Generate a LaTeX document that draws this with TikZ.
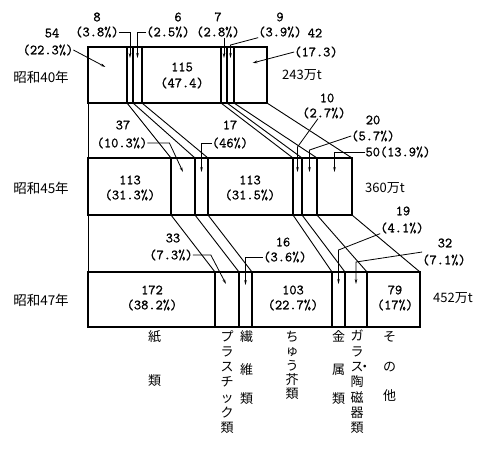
\documentclass[tikz,border=0pt]{standalone}
\usepackage{fontspec}
\setmainfont{Noto Sans CJK JP}
\newfontfamily\numfont[FakeBold=1.2]{Latin Modern Mono}
\usetikzlibrary{arrows.meta, positioning, calc}

\begin{document}
\begin{tikzpicture}[
    x = 1pt, y = -1pt,
    bar/.style = {line width=1.2pt},
    link/.style = {line width=0.9pt},
    arr/.style = {line width=0.8pt, -{Stealth[length=5pt,width=2.6pt]}},
    num/.style = {inner sep=0pt, font=\fontsize{14}{16}\selectfont\numfont},
    unit/.style = {inner sep=0pt, font=\fontsize{13}{15}\selectfont},
    yr/.style = {inner sep=0pt, font=\fontsize{13.5}{15}\selectfont},
    col/.style = {inner sep=0pt, anchor=north, align=center,
        font=\fontsize{13}{15.3}\selectfont}
    ]
    \useasboundingbox (0,0) rectangle (486,448);
    %
    % boundaries of the three bars
    \foreach \x [count=\i from 0] in {88,127,133,142,221,227,234,267} {
        \coordinate (tA\i) at (\x,47);
        \coordinate (bA\i) at (\x,103);
    }
    \foreach \x [count=\i from 0] in {88,171,195,208,293,302,317,352} {
        \coordinate (tB\i) at (\x,158);
        \coordinate (bB\i) at (\x,215);
    }
    \foreach \x [count=\i from 0] in {88,215,239,252,332,345,367,420} {
        \coordinate (tC\i) at (\x,272);
        \coordinate (bC\i) at (\x,327);
    }
    \foreach \r in {A,B,C} {
        \draw[bar] (t\r0) rectangle (b\r7);
        \foreach \i in {1,...,6}
            \draw[bar] (t\r\i) -- (b\r\i);
        \foreach \i [evaluate=\i as \j using int(\i+1)] in {0,...,6}
            \coordinate (m\r\i) at ($(t\r\i)!.5!(t\r\j)$);
    }
    % flows between the bars
    \foreach \i in {0,...,7} {
        \draw[link] (bA\i) -- (tB\i);
        \draw[link] (bB\i) -- (tC\i);
    }
    %
    % 昭和40年
    \node[yr] (y40) at (41,77) {昭和40年};
    \node[num] (p54) at (48,50) {(22.3\%)};
    \node[num] (n54) at (52,33) {54};
    \draw[arr] (p54.east) -- ($(mA0)+(-2,20)$);
    \node[num] (p8) at (97,32) {(3.8\%)};
    \node[num] (n8) at (97,17) {8};
    \draw[arr] (p8.east) -| ($(mA1)+(0,11)$);
    \node[num] (p6) at (168,32) {(2.5\%)};
    \node[num] (n6) at (178,17) {6};
    \draw[arr] (p6.west) -| ($(mA2)+(0,11)$);
    \node[num] (n115) at (182,67) {115};
    \node[num] (p115) at (182,83) {(47.4)};
    \node[num] (p7) at (218,32) {(2.8\%)};
    \node[num] (n7) at (218,17) {7};
    \draw[arr] (p7.south -| mA4) -- ($(mA4)+(0,11)$);
    \node[num] (p9) at (280,32) {(3.9\%)};
    \node[num] (n9) at (280,17) {9};
    \draw[arr] (p9.south west) -- ($(mA5)+(0,-2)$) -- ($(mA5)+(0,11)$);
    \node[num] (p42) at (316,52) {(17.3)};
    \node[num] (n42) at (315,33) {42};
    \draw[arr] (p42.west) -- ($(mA6)+(2,16)$);
    \node[unit] (w40) at (302,75) {243万t};
    %
    % 昭和45年
    \node[yr] (y45) at (41,188) {昭和45年};
    \node[num] (n113a) at (130,180) {113};
    \node[num] (p113a) at (130,195) {(31.3\%)};
    \node[num] (p37) at (122,143) {(10.3\%)};
    \node[num] (n37) at (123,125) {37};
    \draw[arr] (p37.east) -- ++(22,0) -- ($(mB1)+(0,14)$);
    \node[num] (p17) at (230,143) {(46\%)};
    \node[num] (n17) at (230,125) {17};
    \draw[arr] (p17.west) -| ($(mB2)+(0,14)$);
    \node[num] (n113b) at (250,180) {113};
    \node[num] (p113b) at (250,195) {(31.5\%)};
    \node[num] (p10) at (324,113) {(2.7\%)};
    \node[num] (n10) at (327,98) {10};
    \draw[arr] ($(p10.south)+(-6,0)$) -- ($(mB4)+(0,-11)$) -- ($(mB4)+(0,14)$);
    \node[num] (p20) at (373,136) {(5.7\%)};
    \node[num] (n20) at (373,120) {20};
    \draw[arr] (p20.west) -- ($(mB5)+(0,-8)$) -- ($(mB5)+(0,14)$);
    \node[num] (p50) at (398,152) {50(13.9\%)};
    \draw[arr] (p50.west) -| ($(mB6)+(0,14)$);
    \node[unit] (w45) at (385,188) {360万t};
    %
    % 昭和47年
    \node[yr] (y47) at (41,300) {昭和47年};
    \node[num] (n172) at (152,290) {172};
    \node[num] (p172) at (152,305) {(38.2\%)};
    \node[num] (p33) at (171,255) {(7.3\%)};
    \node[num] (n33) at (173,238) {33};
    \draw[arr] (p33.east) -- ++(18,0) -- ($(mC1)+(-1,12)$);
    \node[num] (p16) at (285,257) {(3.6\%)};
    \node[num] (n16) at (283,242) {16};
    \draw[arr] (p16.west) -| ($(mC2)+(0,13)$);
    \node[num] (n103) at (293,290) {103};
    \node[num] (p103) at (293,305) {(22.7\%)};
    \node[num] (p19) at (402,228) {(4.1\%)};
    \node[num] (n19) at (403,211) {19};
    \draw[arr] (p19.south west) -- ($(mC4)+(0,-22)$) -- ($(mC4)+(0,12)$);
    \node[num] (p32) at (444,260) {(7.1\%)};
    \node[num] (n32) at (445,243) {32};
    \draw[arr] ($(p32.west)+(0,-8)$) -- ($(mC5)+(0,-10)$) -- ($(mC5)+(0,12)$);
    \node[num] (n79) at (395,290) {79};
    \node[num] (p79) at (395,305) {(17\%)};
    \node[unit] (w47) at (453,298) {452万t};
    %
    % kinds of refuse
    \node[col] (c1) at ($(bC0)!.5!(bC1)+(3,3)$) {紙\\[29pt]類};
    \node[col] (c2) at ($(bC1)!.5!(bC2)+(0,3)$) {プ\\ラ\\ス\\チ\\ッ\\ク\\類};
    \node[col] (c3) at ($(bC2)!.5!(bC3)+(1,3)$) {繊\\[18pt]維\\[14pt]類};
    \node[col] (c4) at ($(bC3)!.5!(bC4)+(0,4)$) {ち\\[-1pt]ゅ\\[-1pt]う\\[-1pt]芥\\[-1pt]類};
    \node[col] (c5) at ($(bC4)!.5!(bC5)+(0,3)$) {金\\[18pt]属\\[14pt]類};
    \node[col] (c6) at ($(bC5)!.5!(bC6)+(1,3)$) {ガ\\ラ\\ス\rlap{\kern-0.4em ・}\\陶\\磁\\器\\類};
    \node[col] (c7) at ($(bC6)!.5!(bC7)+(-4,4)$) {そ\\[15pt]の\\[14pt]他};
\end{tikzpicture}
\end{document}
